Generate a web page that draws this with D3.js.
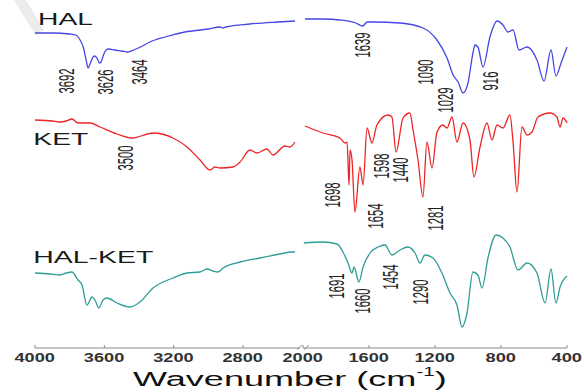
<!DOCTYPE html>
<html>
<head>
<meta charset="utf-8">
<script src="https://cdn.jsdelivr.net/npm/d3@7"></script>
<style>
  body { margin: 0; background: #fff; }
  svg { display: block; font-family: 'Liberation Sans', Arial, sans-serif; }
</style>
</head>
<body>
<div id="chart"></div>
<script>
// FTIR spectra, offset transmittance (a.u.) vs wavenumber (cm-1)
// [wavenumber, value]; the x axis is broken between 2500 and 2000
const halSpectrum = [
  [4000, 315], [3900, 315], [3800, 314], [3765, 313], [3740, 308], [3720, 300], [3705, 288],
  [3694, 280], [3680, 285], [3665, 291], [3655, 292], [3640, 289], [3628, 285], [3619, 286],
  [3605, 293], [3590, 298], [3575, 299], [3540, 298], [3500, 297], [3464, 296], [3430, 298],
  [3380, 302], [3337, 306], [3250, 311], [3135, 316], [3000, 319], [2933, 321], [2915, 320],
  [2900, 321], [2760, 324], [2600, 326], [2500, 327],
  [1988, 329], [1880, 329], [1776, 328], [1680, 325], [1639, 322], [1610, 326], [1576, 326],
  [1412, 325], [1273, 320], [1188, 308], [1127, 290], [1090, 273], [1060, 266], [1030, 255],
  [1000, 265], [970, 295], [958, 303], [940, 301], [909, 281], [867, 311], [824, 327],
  [788, 323], [758, 316], [727, 318], [691, 298], [642, 301], [582, 288], [539, 267],
  [497, 298], [467, 272], [436, 285], [400, 301],
]

const ketSpectrum = [
  [4000, 228], [3900, 227], [3856, 226], [3820, 227], [3787, 229], [3752, 225], [3683, 225],
  [3625, 221], [3527, 214], [3440, 210], [3319, 215], [3204, 210], [3123, 201], [3048, 188],
  [2990, 178], [2962, 181], [2933, 180], [2858, 181], [2817, 186], [2760, 198], [2719, 195],
  [2662, 199], [2627, 193], [2558, 202], [2529, 201], [2500, 206],
  [1988, 222], [1879, 215], [1776, 210], [1745, 205], [1733, 206], [1721, 163], [1715, 198],
  [1703, 188], [1685, 136], [1655, 181], [1636, 163], [1612, 220], [1582, 205], [1552, 223],
  [1485, 233], [1461, 231], [1436, 196], [1394, 230], [1352, 235], [1333, 218], [1303, 188],
  [1273, 151], [1249, 206], [1218, 180], [1188, 216], [1152, 223], [1127, 220], [1097, 231],
  [1067, 206], [1030, 225], [988, 208], [964, 171], [927, 201], [885, 225], [855, 208],
  [824, 223], [788, 220], [746, 233], [727, 206], [703, 156], [673, 221], [642, 213],
  [612, 216], [576, 231], [503, 235], [461, 231], [442, 221], [424, 230], [400, 225],
]

const halKetSpectrum = [
  [4000, 75], [3913, 74], [3856, 73], [3820, 75], [3787, 76], [3752, 68], [3729, 63],
  [3700, 43], [3671, 51], [3654, 48], [3631, 40], [3608, 48], [3585, 50], [3527, 45],
  [3452, 41], [3394, 46], [3319, 60], [3204, 70], [3123, 75], [3048, 76], [3008, 79],
  [2973, 77], [2944, 76], [2915, 80], [2817, 86], [2702, 90], [2587, 94], [2517, 96], [2500, 96],
  [1995, 105], [1879, 106], [1794, 104], [1758, 96], [1727, 85], [1703, 75], [1691, 81],
  [1661, 66], [1636, 81], [1594, 95], [1545, 101], [1503, 103], [1461, 93], [1412, 98],
  [1364, 101], [1321, 95], [1291, 85], [1261, 93], [1212, 90], [1158, 75], [1109, 55],
  [1067, 43], [1036, 21], [1006, 35], [970, 76], [940, 73], [915, 60], [879, 90], [830, 113],
  [788, 110], [746, 101], [697, 78], [642, 85], [582, 75], [533, 45], [497, 79], [467, 45],
  [442, 61], [400, 72],
]

const seriesNames = ['HAL', 'KET', 'HAL-KET']
const seriesColors = ['#4646e6', '#ee2424', '#2f9c96']
// name label anchor: [wavenumber at left edge, value at baseline]
const nameAnchors = [[3982, 323], [4010, 203], [4010, 85]]

// peak annotations: [text, wavenumber, value] (centre of the label)
const halPeaks = [['3692', 3818, 267], ['3626', 3596, 266], ['3464', 3397, 276],
  ['1639', 1639, 303], ['1090', 1258, 276], ['1029', 1136, 248], ['916', 864, 267]]
const ketPeaks = [['3500', 3481, 190], ['1698', 1821, 153], ['1654', 1561, 132],
  ['1598', 1524, 182], ['1440', 1409, 178], ['1281', 1197, 130]]
const halKetPeaks = [['1691', 1797, 62], ['1660', 1639, 47], ['1454', 1470, 71], ['1290', 1288, 56]]

const leftTicks = [4000, 3600, 3200, 2800]
const rightTicks = [2000, 1600, 1200, 800, 400]

const width = 584
const height = 392
const axisY = 348

const xLeft = d3.scaleLinear().domain([4000, 2500]).range([35, 295])
const xRight = d3.scaleLinear().domain([2000, 400]).range([303, 567])
const y = d3.scaleLinear().domain([0, 340]).range([axisY, 8])
const xAny = (w) => (w > 2250 ? xLeft(w) : xRight(w))

const svg = d3.select('#chart').append('svg').attr('width', width).attr('height', height)

// faint watermark stroke seen in the top-left corner of the source figure
svg
  .append('path')
  .attr('d', 'M14,0 L26,0 L44,30 L36,36 Z')
  .attr('fill', '#ececec')

// stretch a text element horizontally so it spans the wanted width
function stretchText(sel, x0, y0, targetWidth) {
  const w0 = sel.node().getBBox().width
  sel.attr('transform', `translate(${x0},${y0}) scale(${targetWidth / w0},1)`)
}

// spectra
const spectra = [halSpectrum, ketSpectrum, halKetSpectrum]
spectra.forEach((data, i) => {
  const left = data.filter((d) => d[0] >= 2500)
  const right = data.filter((d) => d[0] <= 2000)
  ;[[left, xLeft], [right, xRight]].forEach(([part, xs]) => {
    svg
      .append('path')
      .datum(part)
      .attr('fill', 'none')
      .attr('stroke', seriesColors[i])
      .attr('stroke-width', 1.3)
      .attr('stroke-linejoin', 'round')
      .attr('d', d3.line().x((d) => xs(d[0])).y((d) => y(d[1])).curve(d3.curveMonotoneX))
  })
})

// series names
const nameWidths = [55, 55, 120]
seriesNames.forEach((name, i) => {
  const t = svg
    .append('text')
    .attr('font-size', 17)
    .attr('fill', '#1a1a1a')
    .text(name)
  stretchText(t, xLeft(nameAnchors[i][0]), y(nameAnchors[i][1]), nameWidths[i])
})

// peak labels, rotated
;[halPeaks, ketPeaks, halKetPeaks].forEach((peaks) => {
  peaks.forEach(([txt, w, v]) => {
    svg
      .append('text')
      .attr('font-size', 13)
      .attr('fill', '#1f1f1f')
      .attr('text-anchor', 'middle')
      .attr('dy', '0.36em')
      .attr('textLength', txt.length * 6.3)
      .attr('lengthAdjust', 'spacingAndGlyphs')
      .attr('transform', `translate(${xAny(w)},${y(v)}) scale(1.65,1) rotate(-90)`)
      .text(txt)
  })
})

// broken x axis
const axisColor = '#8a8a8a'
const axisG = svg.append('g').attr('stroke', axisColor).attr('stroke-width', 1)
axisG.append('line').attr('x1', xLeft(4000)).attr('x2', 300).attr('y1', axisY).attr('y2', axisY)
axisG.append('line').attr('x1', 303).attr('x2', xRight(400)).attr('y1', axisY).attr('y2', axisY)
// break marks
;[299, 306].forEach((bx) => {
  axisG.append('line').attr('x1', bx - 2).attr('y1', axisY + 1.5).attr('x2', bx + 3).attr('y2', axisY - 3)
})

const ticks = leftTicks.map((t) => [t, xLeft(t)]).concat(rightTicks.map((t) => [t, xRight(t)]))
ticks.forEach(([t, tx]) => {
  axisG.append('line').attr('x1', tx).attr('x2', tx).attr('y1', axisY).attr('y2', axisY - 3)
  const lbl = svg
    .append('text')
    .attr('font-size', 12)
    .attr('font-weight', 'bold')
    .attr('fill', '#333')
    .text(t)
  const tw = String(t).length === 4 ? 41 : 31
  stretchText(lbl, tx - tw / 2, 362, tw)
})

// axis title
const title = svg.append('text').attr('font-size', 21).attr('fill', '#111')
title.append('tspan').text('Wavenumber (cm')
title.append('tspan').attr('font-size', 12).attr('dy', -10).text('-1')
title.append('tspan').attr('dy', 10).text(')')
stretchText(title, 133, 386, 314)
</script>
</body>
</html>
